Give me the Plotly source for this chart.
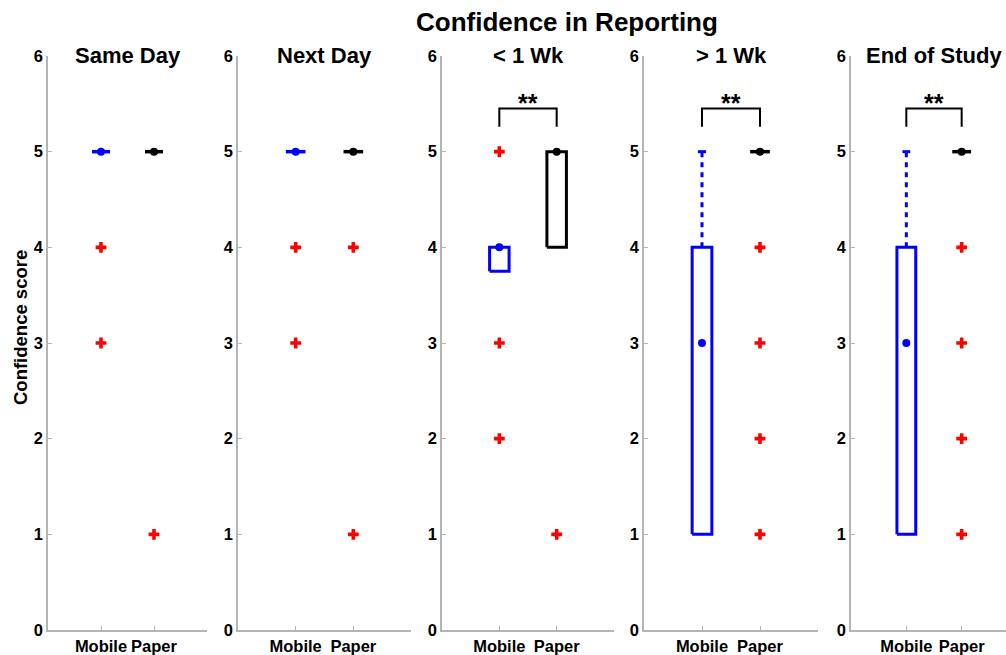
import plotly.graph_objects as go

# ---------------- data ----------------
panels = ["Same Day", "Next Day", "< 1 Wk", "> 1 Wk", "End of Study"]
groups = ["Mobile", "Paper"]
y_ticks = [0, 1, 2, 3, 4, 5, 6]

mobile_q1 = [5, 5, 3.75, 1, 1]
mobile_median = [5, 5, 4, 3, 3]
mobile_q3 = [5, 5, 4, 4, 4]
mobile_whisker_lo = [5, 5, 3.75, 1, 1]
mobile_whisker_hi = [5, 5, 4, 5, 5]
mobile_outliers = [[4, 3], [4, 3], [5, 3, 2], [], []]

paper_q1 = [5, 5, 4, 5, 5]
paper_median = [5, 5, 5, 5, 5]
paper_q3 = [5, 5, 5, 5, 5]
paper_whisker_lo = [5, 5, 4, 5, 5]
paper_whisker_hi = [5, 5, 5, 5, 5]
paper_outliers = [[1], [4, 1], [1], [4, 3, 2, 1], [4, 3, 2, 1]]

significance = ["", "", "**", "**", "**"]

# ---------------- layout helpers ----------------
W, H = 1006, 655
x_px_ref = [(48, 207), (238, 411), (442, 614), (644, 818), (851, 1017)]
y_top_ref, y_bot_ref = 56, 630

def px_x(v):
    return v / W

def px_y(v):
    return 1 - v / H

ydom = [px_y(y_bot_ref), px_y(y_top_ref)]

AX_GRAY = "#b4b4b4"
FONT = "Liberation Sans, Arial, Helvetica, sans-serif"
half_w = 0.17
cap_w = 0.07

fig = go.Figure()

def add_group(i, xpos, q1, med, q3, lo, hi, outl, color):
    xa, ya = f"x{i+1}", f"y{i+1}"
    if q1 == q3:
        fig.add_trace(go.Scatter(x=[xpos - half_w, xpos + half_w], y=[q3, q3], mode="lines",
                                 line=dict(color=color, width=3.5), xaxis=xa, yaxis=ya,
                                 showlegend=False, hoverinfo="skip"))
    else:
        fig.add_trace(go.Scatter(
            x=[xpos - half_w, xpos + half_w, xpos + half_w, xpos - half_w, xpos - half_w],
            y=[q1, q1, q3, q3, q1], mode="lines",
            line=dict(color=color, width=3), xaxis=xa, yaxis=ya,
            showlegend=False, hoverinfo="skip"))
    for end, base in ((hi, q3), (lo, q1)):
        if end != base:
            fig.add_trace(go.Scatter(x=[xpos, xpos], y=[base, end], mode="lines",
                                     line=dict(color=color, width=3, dash="5px,5px"),
                                     xaxis=xa, yaxis=ya, showlegend=False, hoverinfo="skip"))
            fig.add_trace(go.Scatter(x=[xpos - cap_w, xpos + cap_w], y=[end, end], mode="lines",
                                     line=dict(color=color, width=3),
                                     xaxis=xa, yaxis=ya, showlegend=False, hoverinfo="skip"))
    fig.add_trace(go.Scatter(x=[xpos], y=[med], mode="markers",
                             marker=dict(color=color, size=8, symbol="circle"),
                             xaxis=xa, yaxis=ya, showlegend=False, hoverinfo="skip"))
    if outl:
        fig.add_trace(go.Scatter(x=[xpos] * len(outl), y=outl, mode="markers",
                                 marker=dict(color="#ff0000", size=9, symbol="cross"),
                                 xaxis=xa, yaxis=ya, showlegend=False, hoverinfo="skip"))

for i in range(len(panels)):
    add_group(i, 1, mobile_q1[i], mobile_median[i], mobile_q3[i],
              mobile_whisker_lo[i], mobile_whisker_hi[i], mobile_outliers[i], "#0000ff")
    add_group(i, 2, paper_q1[i], paper_median[i], paper_q3[i],
              paper_whisker_lo[i], paper_whisker_hi[i], paper_outliers[i], "#000000")
    if significance[i]:
        fig.add_trace(go.Scatter(x=[1, 1, 2, 2], y=[5.26, 5.45, 5.45, 5.26], mode="lines",
                                 line=dict(color="black", width=2),
                                 xaxis=f"x{i+1}", yaxis=f"y{i+1}",
                                 showlegend=False, hoverinfo="skip"))
        fig.add_annotation(x=1.5, y=5.355, xref=f"x{i+1}", yref=f"y{i+1}",
                           text=significance[i], showarrow=False, yanchor="bottom",
                           borderpad=0,
                           font=dict(family=FONT, size=25, color="black", weight="bold"))

layout = dict(width=W, height=H, margin=dict(l=0, r=0, t=0, b=0, autoexpand=False),
              plot_bgcolor="white", paper_bgcolor="white", showlegend=False,
              template="none")

for i in range(len(panels)):
    x0, x1 = x_px_ref[i]
    d1 = min(px_x(x1), 1.0)
    r1 = 3 * (min(x1, W) - x0) / (x1 - x0)
    sfx = "" if i == 0 else str(i + 1)
    layout["xaxis" + sfx] = dict(
        domain=[px_x(x0), d1], range=[0, r1], anchor=f"y{i+1}", automargin=False,
        tickmode="array", tickvals=[0, 1, 2, 3], ticktext=["", groups[0], groups[1], ""],
        ticks="inside", ticklen=4, tickcolor=AX_GRAY, tickwidth=1,
        showline=True, linecolor=AX_GRAY, linewidth=1.5, showgrid=False, zeroline=False,
        tickfont=dict(family=FONT, size=16.5, color="black", weight="bold"))
    layout["yaxis" + sfx] = dict(
        domain=ydom, range=[0, 6], anchor=f"x{i+1}", automargin=False,
        tickmode="array", tickvals=y_ticks, ticktext=[str(v) for v in y_ticks],
        ticks="inside", ticklen=4, tickcolor=AX_GRAY, tickwidth=1,
        showline=True, linecolor=AX_GRAY, linewidth=1.5, showgrid=False, zeroline=False,
        tickfont=dict(family=FONT, size=16.5, color="black", weight="bold"))
    fig.add_annotation(x=1.5, y=px_y(55), xref=f"x{i+1}", yref="paper",
                       text=panels[i], showarrow=False, yanchor="middle", borderpad=0,
                       font=dict(family=FONT, size=22, color="black", weight="bold"))

fig.update_layout(**layout)

fig.add_annotation(x=px_x(567), y=px_y(22), xref="paper", yref="paper",
                   text="Confidence in Reporting", showarrow=False, yanchor="middle",
                   borderpad=0,
                   font=dict(family=FONT, size=26, color="black", weight="bold"))
fig.add_annotation(x=px_x(20), y=px_y(328), xref="paper", yref="paper",
                   text="Confidence score", showarrow=False, textangle=-90,
                   xanchor="center", yanchor="middle", borderpad=0,
                   font=dict(family=FONT, size=18.5, color="black", weight="bold"))

fig.write_html("out.html", config={"displayModeBar": False},
               post_script="document.body.style.margin='0';document.body.style.overflow='hidden';")
